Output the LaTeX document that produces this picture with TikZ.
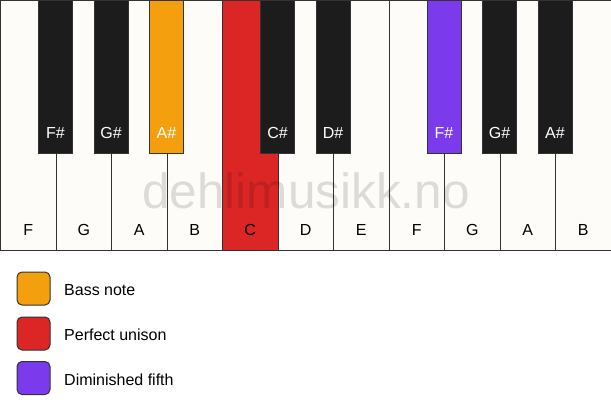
\documentclass[tikz,border=0pt]{standalone}
\usepackage{fontspec}
\setmainfont{Liberation Sans}
\usetikzlibrary{positioning}
\definecolor{keywhite}{HTML}{FDFCF8}
\definecolor{keyblack}{HTML}{1C1C1C}
\definecolor{keyedge}{HTML}{333333}
\definecolor{bassnote}{HTML}{F49F0E}
\definecolor{unison}{HTML}{DC2626}
\definecolor{dimfifth}{HTML}{7C3AED}
\begin{document}
\begin{tikzpicture}[
    x=1pt, y=-1pt,
    whitekey/.style={rectangle,draw=keyedge,fill=keywhite,line width=1pt,anchor=north west,minimum width=55.5pt,minimum height=250pt,inner sep=0pt},
    blackkey/.style={rectangle,draw=keyedge,fill=keyblack,line width=1pt,anchor=north,minimum width=34pt,minimum height=153pt,inner sep=0pt},
    whitename/.style={anchor=base,inner sep=0pt,font=\fontsize{16}{18}\selectfont,text=black},
    blackname/.style={anchor=base,inner sep=0pt,font=\fontsize{16}{18}\selectfont,text=white},
    legendbox/.style={rectangle,rounded corners=5pt,draw=keyedge,line width=1pt,minimum size=33pt,inner sep=0pt},
    legendtext/.style={anchor=base west,inner sep=0pt,font=\fontsize{16}{18}\selectfont}
]
    \useasboundingbox[fill=white] (0,0) rectangle (611,417);

    % white keys
    \node[whitekey] (f1) at (0,0) {};
    \node[whitekey] (g1) at (55.5,0) {};
    \node[whitekey] (a1) at (111,0) {};
    \node[whitekey] (b1) at (166.5,0) {};
    \node[whitekey,fill=unison] (c2) at (222,0) {};
    \node[whitekey] (d2) at (277.5,0) {};
    \node[whitekey] (e2) at (333,0) {};
    \node[whitekey] (f2) at (388.5,0) {};
    \node[whitekey] (g2) at (444,0) {};
    \node[whitekey] (a2) at (499.5,0) {};
    \node[whitekey] (b2) at (555,0) {};

    % watermark
    \node[anchor=base,inner sep=0pt,text=black,text opacity=0.13,font=\fontsize{49.5}{52}\selectfont] (mark) at (306,208) {dehlimusikk.no};

    % black keys
    \node[blackkey] (fs1) at (55.5,0) {};
    \node[blackkey] (gs1) at (111,0) {};
    \node[blackkey,fill=bassnote] (as1) at (166.5,0) {};
    \node[blackkey] (cs2) at (277.5,0) {};
    \node[blackkey] (ds2) at (333,0) {};
    \node[blackkey,fill=dimfifth] (fs2) at (444,0) {};
    \node[blackkey] (gs2) at (499.5,0) {};
    \node[blackkey] (as2) at (555,0) {};

    % key names
    \node[whitename] (nf1) at ([yshift=15pt]f1.south) {F};
    \node[whitename] (ng1) at ([yshift=15pt]g1.south) {G};
    \node[whitename] (na1) at ([yshift=15pt]a1.south) {A};
    \node[whitename] (nb1) at ([yshift=15pt]b1.south) {B};
    \node[whitename] (nc2) at ([yshift=15pt]c2.south) {C};
    \node[whitename] (nd2) at ([yshift=15pt]d2.south) {D};
    \node[whitename] (ne2) at ([yshift=15pt]e2.south) {E};
    \node[whitename] (nf2) at ([yshift=15pt]f2.south) {F};
    \node[whitename] (ng2) at ([yshift=15pt]g2.south) {G};
    \node[whitename] (na2) at ([yshift=15pt]a2.south) {A};
    \node[whitename] (nb2) at ([yshift=15pt]b2.south) {B};
    \node[blackname] (nfs1) at ([yshift=15pt]fs1.south) {F\#};
    \node[blackname] (ngs1) at ([yshift=15pt]gs1.south) {G\#};
    \node[blackname] (nas1) at ([yshift=15pt]as1.south) {A\#};
    \node[blackname] (ncs2) at ([yshift=15pt]cs2.south) {C\#};
    \node[blackname] (nds2) at ([yshift=15pt]ds2.south) {D\#};
    \node[blackname] (nfs2) at ([yshift=15pt]fs2.south) {F\#};
    \node[blackname] (ngs2) at ([yshift=15pt]gs2.south) {G\#};
    \node[blackname] (nas2) at ([yshift=15pt]as2.south) {A\#};

    % legend
    \node[legendbox,fill=bassnote] (bass) at (33.5,288.5) {};
    \node[legendbox,fill=unison] (unis) at (33.5,333.5) {};
    \node[legendbox,fill=dimfifth] (dim) at (33.5,378) {};
    \node[legendtext] (tbass) at (64,295.5) {Bass note};
    \node[legendtext] (tunis) at (64,340.5) {Perfect unison};
    \node[legendtext] (tdim) at (64,385) {Diminished fifth};
\end{tikzpicture}
\end{document}
